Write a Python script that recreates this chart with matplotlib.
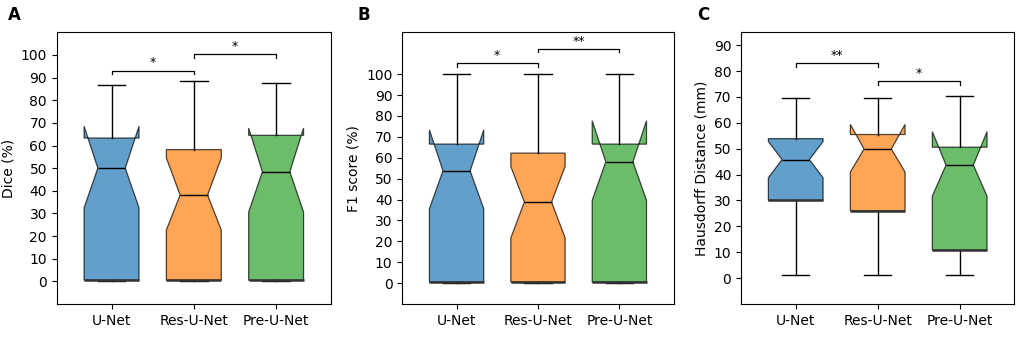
import matplotlib.pyplot as plt

models = ['U-Net', 'Res-U-Net', 'Pre-U-Net']
colors = ['#1f77b4', '#ff7f0e', '#2ca02c']

# box statistics: whislo, q1, med, q3, whishi, cilo, cihi
dice_stats = [
    [0.0, 0.5, 50.0, 63.3, 86.8, 32.5, 68.5],
    [0.0, 0.5, 38.1, 58.2, 88.4, 22.7, 54.5],
    [0.0, 0.5, 48.4, 64.5, 87.4, 30.6, 67.7],
]
f1_stats = [
    [0.0, 0.5, 53.7, 66.5, 100.0, 35.6, 73.3],
    [0.0, 0.5, 38.8, 62.2, 100.0, 21.6, 55.8],
    [0.0, 0.5, 58.0, 66.5, 100.0, 39.6, 77.7],
]
hd_stats = [
    [1.3, 30.0, 45.8, 53.9, 69.7, 38.8, 52.8],
    [1.2, 26.0, 49.9, 55.5, 69.7, 41.0, 59.4],
    [1.4, 10.8, 43.7, 50.6, 70.2, 31.7, 56.6],
]

# significance brackets: (left box, right box, height, label)
dice_sig = [(1, 2, 93.1, '*'), (2, 3, 100.4, '*')]
f1_sig = [(1, 2, 105.1, '*'), (2, 3, 112.0, '**')]
hd_sig = [(1, 2, 83.2, '**'), (2, 3, 76.2, '*')]

panels = [
    ('A', 'Dice (%)', dice_stats, dice_sig, (-10, 110), range(0, 101, 10)),
    ('B', 'F1 score (%)', f1_stats, f1_sig, (-10, 120), range(0, 101, 10)),
    ('C', 'Hausdorff Distance (mm)', hd_stats, hd_sig, (-10, 95), range(0, 91, 10)),
]

axes_rects = [
    [0.0555, 0.1006, 0.2687, 0.8038],
    [0.3940, 0.1006, 0.2658, 0.8038],
    [0.7258, 0.1006, 0.2677, 0.8038],
]
label_x = [0.008, 0.350, 0.683]

fig = plt.figure(figsize=(10.21, 3.38), dpi=100)
fs = 10
width = 0.667
positions = [1, 2, 3]

for i, (letter, ylabel, stats, sig, ylim, ticks) in enumerate(panels):
    ax = fig.add_axes(axes_rects[i])
    bxp_stats = []
    for s in stats:
        bxp_stats.append(dict(whislo=s[0], q1=s[1], med=s[2], q3=s[3],
                              whishi=s[4], cilo=s[5], cihi=s[6], fliers=[]))
    bp = ax.bxp(bxp_stats, positions=positions, widths=width, shownotches=True,
                patch_artist=True, showfliers=False,
                boxprops=dict(linewidth=0.9, edgecolor='black'),
                medianprops=dict(color='black', linewidth=1.0),
                whiskerprops=dict(color='black', linewidth=1.0),
                capprops=dict(color='black', linewidth=1.0))
    for patch, c in zip(bp['boxes'], colors):
        patch.set_facecolor(c)
        patch.set_alpha(0.7)
        patch.set_edgecolor('black')
    # darker edge at the lower quartile
    for p, s in zip(positions, stats):
        ax.hlines(s[1], p - width / 2, p + width / 2, color='#333333', linewidth=1.8, zorder=3)

    # significance brackets
    for a, b, h, txt in sig:
        ax.plot([a, a, b, b], [h - 1.6, h, h, h - 1.6], color='black', linewidth=0.9)
        ax.text((a + b) / 2, h + 0.5, txt, ha='center', va='bottom', fontsize=9)

    ax.set_xlim(0.333, 3.667)
    ax.set_ylim(*ylim)
    ax.set_yticks(list(ticks))
    ax.set_xticks(positions)
    ax.set_xticklabels(models)
    ax.tick_params(labelsize=fs)
    ax.set_ylabel(ylabel, fontsize=fs)
    fig.text(label_x[i], 0.955, letter, fontsize=12, fontweight='bold', va='center')

fig.savefig('out.png', dpi=100)
